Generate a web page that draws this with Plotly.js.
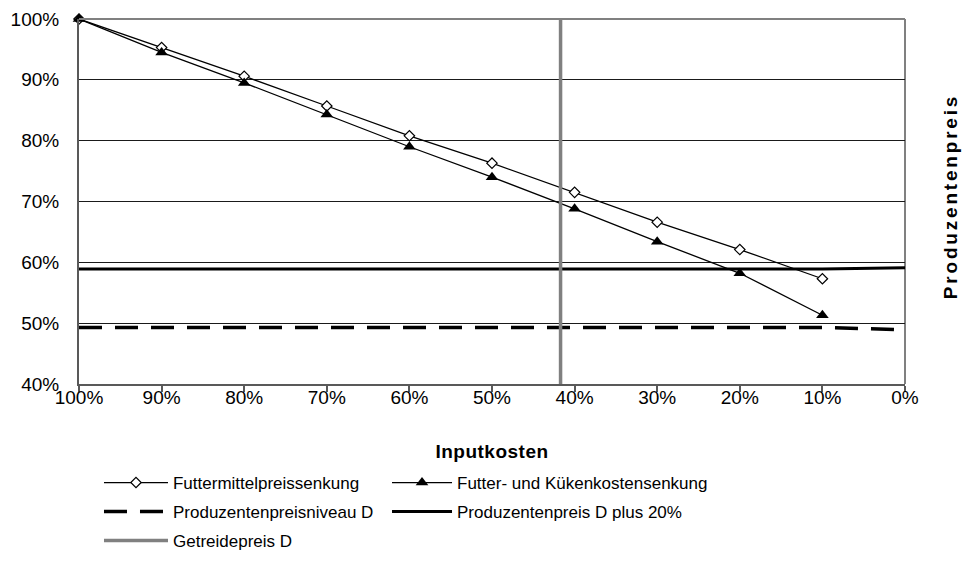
<!DOCTYPE html>
<html>
<head>
<meta charset="utf-8">
<script src="https://cdn.plot.ly/plotly-3.0.1.min.js"></script>
<style>
  html, body { margin: 0; padding: 0; background: #fff; }
  #chart { width: 962px; height: 588px; }
  .annotation-text { letter-spacing: 2.8px; }
  .xtitle { letter-spacing: 0.5px; }
</style>
</head>
<body>
<div id="chart"></div>
<script>
// ---- data ----
const inputCosts = [100, 90, 80, 70, 60, 50, 40, 30, 20, 10];
const futtermittel = [100, 95.3, 90.6, 85.7, 80.8, 76.3, 71.5, 66.6, 62.1, 57.3];
const futterKueken = [100, 94.5, 89.5, 84.3, 79.0, 74.0, 68.8, 63.4, 58.2, 51.3];
const levelX = [100, 90, 80, 70, 60, 50, 40, 30, 20, 10, 0];
const niveauD = [49.3, 49.3, 49.3, 49.3, 49.3, 49.3, 49.3, 49.3, 49.3, 49.3, 48.9];
const plus20 = [58.9, 58.9, 58.9, 58.9, 58.9, 58.9, 58.9, 58.9, 58.9, 58.9, 59.1];
const getreideX = [41.7, 41.7];
const getreideY = [40, 100];
const xTicks = [100, 90, 80, 70, 60, 50, 40, 30, 20, 10, 0];
const xTickLabels = ['100%', '90%', '80%', '70%', '60%', '50%', '40%', '30%', '20%', '10%', '0%'];
const yTicks = [40, 50, 60, 70, 80, 90, 100];
const yTickLabels = ['40%', '50%', '60%', '70%', '80%', '90%', '100%'];
const names = ['Futtermittelpreissenkung', 'Futter- und Kükenkostensenkung',
  'Produzentenpreisniveau D', 'Produzentenpreis D plus 20%', 'Getreidepreis D'];
const xTitle = 'Inputkosten';
const yTitle = 'Produzentenpreis';

const FONT = 'Liberation Sans, Arial, sans-serif';

const traces = [
  { x: inputCosts, y: futtermittel, name: names[0], type: 'scatter', mode: 'lines+markers',
    line: { color: '#000', width: 1.3 },
    marker: { symbol: 'diamond', size: 8, color: '#fff', line: { color: '#000', width: 1.2 } },
    cliponaxis: false, legend: 'legend' },
  { x: inputCosts, y: futterKueken, name: names[1], type: 'scatter', mode: 'lines+markers',
    line: { color: '#000', width: 1.3 },
    marker: { symbol: 'triangle-up', size: 11, color: '#000', line: { width: 0 } },
    cliponaxis: false, legend: 'legend2' },
  { x: levelX, y: niveauD, name: names[2], type: 'scatter', mode: 'lines',
    line: { color: '#000', width: 3.5, dash: '23px,13px' }, legend: 'legend3' },
  { x: levelX, y: plus20, name: names[3], type: 'scatter', mode: 'lines',
    line: { color: '#000', width: 3 }, legend: 'legend4' },
  { x: getreideX, y: getreideY, name: names[4], type: 'scatter', mode: 'lines',
    line: { color: '#808080', width: 3.5 }, legend: 'legend5' }
];

function leg(x, y, iw) {
  return {
    orientation: 'h', xanchor: 'left', yanchor: 'middle',
    xref: 'container', yref: 'container', x: x, y: y,
    bgcolor: 'rgba(0,0,0,0)', borderwidth: 0,
    font: { family: FONT, size: 17, color: '#000' },
    itemwidth: iw, itemclick: false, itemdoubleclick: false
  };
}

const layout = {
  width: 962, height: 588,
  margin: { l: 79, r: 57, t: 19, b: 204 },
  paper_bgcolor: '#fff', plot_bgcolor: '#fff',
  font: { family: FONT, size: 19, color: '#000' },
  xaxis: {
    range: [100, 0], tickmode: 'array', tickvals: xTicks, ticktext: xTickLabels,
    ticks: 'outside', ticklen: 6, tickwidth: 1.5, tickcolor: '#595959',
    showgrid: false, zeroline: false,
    showline: true, linecolor: '#595959', linewidth: 2,
    tickfont: { family: FONT, size: 19, color: '#000' },
    ticklabelstandoff: -11, tickangle: 0,
    title: { text: '<b>' + xTitle + '</b>', font: { family: FONT, size: 19, color: '#000' }, standoff: 38 },
    automargin: false
  },
  yaxis: {
    range: [40, 100], tickmode: 'array', tickvals: yTicks, ticktext: yTickLabels,
    ticks: '', showgrid: true, gridcolor: '#1a1a1a', gridwidth: 1,
    zeroline: false, showline: true, linecolor: '#595959', linewidth: 2,
    tickfont: { family: FONT, size: 19, color: '#000' },
    ticklabelstandoff: 14,
    automargin: false
  },
  shapes: [
    { type: 'line', xref: 'paper', yref: 'paper', x0: 0, x1: 1, y0: 1, y1: 1,
      line: { color: '#808080', width: 2 }, layer: 'above' },
    { type: 'line', xref: 'paper', yref: 'paper', x0: 1, x1: 1, y0: 0, y1: 1,
      line: { color: '#808080', width: 2 }, layer: 'below' }
  ],
  annotations: [
    { text: '<b>' + yTitle + '</b>', xref: 'paper', yref: 'paper', x: 1.0545, y: 0.512,
      xanchor: 'center', yanchor: 'middle', textangle: -90, showarrow: false,
      font: { family: FONT, size: 19, color: '#000' } }
  ],
  showlegend: true,
  legend: leg(0.1029, 0.1786, 64),
  legend2: leg(0.4023, 0.1786, 60),
  legend3: leg(0.1029, 0.1293, 64),
  legend4: leg(0.4023, 0.1293, 60),
  legend5: leg(0.1029, 0.0799, 64)
};

Plotly.newPlot('chart', traces, layout, { displayModeBar: false });
</script>
</body>
</html>
